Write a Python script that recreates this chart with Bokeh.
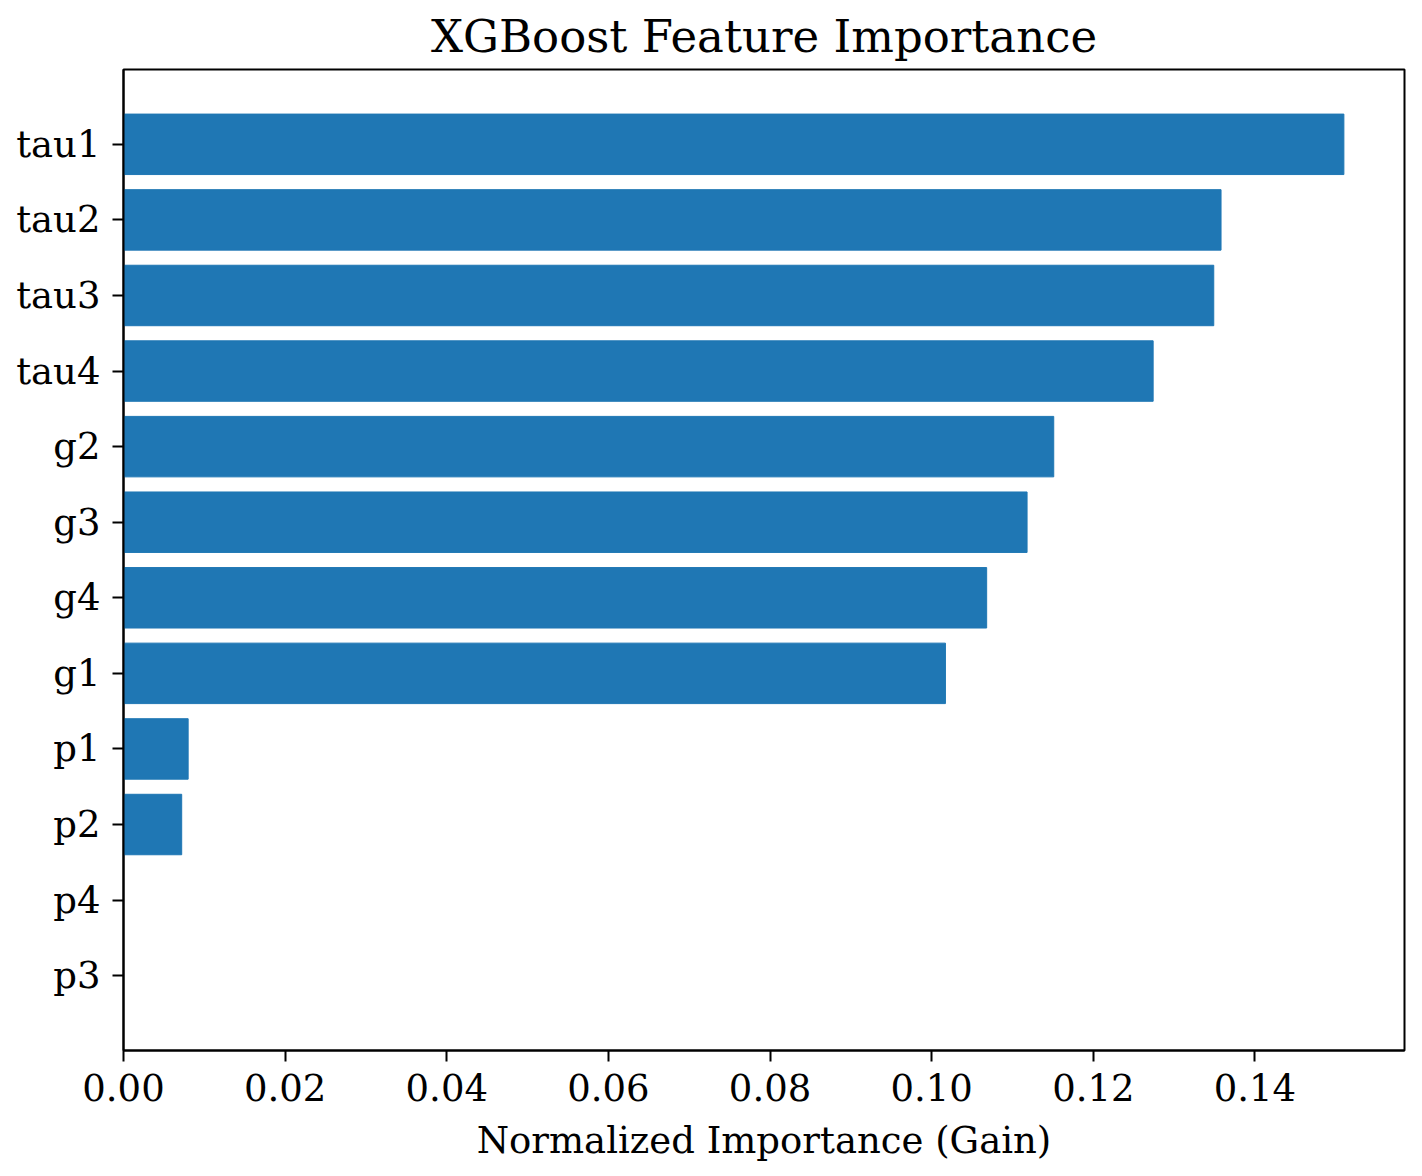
from bokeh.plotting import figure
from bokeh.models import Range1d, FactorRange, FixedTicker, NumeralTickFormatter
from bokeh.embed import file_html
from bokeh.resources import INLINE

features = ["tau1", "tau2", "tau3", "tau4", "g2", "g3", "g4", "g1", "p1", "p2", "p4", "p3"]
importance = [0.1510, 0.1358, 0.1349, 0.1274, 0.1151, 0.1118, 0.1068, 0.1017, 0.0080, 0.0072, 0.0, 0.0]
x_ticks = [0.00, 0.02, 0.04, 0.06, 0.08, 0.10, 0.12, 0.14]

FONT = "DejaVu Serif"

# top feature at the top
factors = features[::-1]
vals = importance[::-1]

p = figure(
    y_range=FactorRange(factors=factors, range_padding=0.49, range_padding_units="absolute"),
    x_range=Range1d(0, 0.1585),
    frame_width=1281, frame_height=981,
    min_border_left=123, min_border_top=69, min_border_right=10, min_border_bottom=100,
    output_backend="svg", toolbar_location=None,
    title="XGBoost Feature Importance",
)

p.hbar(y=factors, right=vals, left=0, height=0.8, color="#1f77b4")

p.title.text_font = FONT
p.title.text_font_size = "45px"
p.title.text_font_style = "normal"
p.title.align = "center"
p.title.text_color = "black"
p.title.standoff = 13

p.xaxis.ticker = FixedTicker(ticks=x_ticks)
p.xaxis.formatter = NumeralTickFormatter(format="0.00")
p.xaxis.axis_label = "Normalized Importance (Gain)"

for ax in (p.xaxis, p.yaxis):
    ax.axis_line_width = 2
    ax.axis_line_color = "black"
    ax.major_tick_line_width = 2
    ax.major_tick_line_color = "black"
    ax.major_tick_in = 0
    ax.major_tick_out = 11
    ax.minor_tick_line_color = None
    ax.major_label_text_font = FONT
    ax.major_label_text_font_size = "37px"
    ax.major_label_text_color = "black"
    ax.major_label_standoff = 12
    ax.axis_label_text_font = FONT
    ax.axis_label_text_font_size = "37px"
    ax.axis_label_text_font_style = "normal"
    ax.axis_label_text_color = "black"
    ax.axis_label_standoff = 15

p.xgrid.grid_line_color = None
p.ygrid.grid_line_color = None
p.outline_line_color = "black"
p.outline_line_width = 2
p.outline_line_alpha = 1
p.background_fill_color = "white"
p.border_fill_color = "white"

open("out.html", "w").write(file_html(p, INLINE))
